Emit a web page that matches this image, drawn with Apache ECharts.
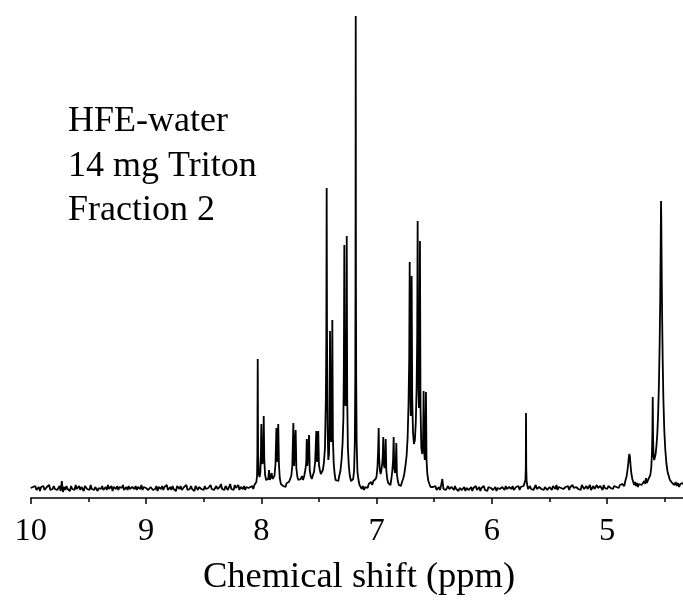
<!DOCTYPE html>
<html><head><meta charset="utf-8">
<script src="https://cdn.jsdelivr.net/npm/echarts@6/dist/echarts.min.js"></script>
<style>html,body{margin:0;padding:0;background:#fff}#c{width:683px;height:603px}</style>
</head><body><div id="c"></div>
<script>
// ---- data (ppm, relative intensity) ----
const annotationLines = ['HFE-water', '14 mg Triton', 'Fraction 2'];
const axisTitle = 'Chemical shift (ppm)';

// baseline noise segments: start ppm, step (ppm), values
const noise1Start = 10.00, noise1Step = 0.01;
const noise1 = [0,-2,1,-1,2,-2,0,1,-3,1,-1,2,-2,0,1,-1,3,-2,0,-1,2,-1,1,-2,0,2,-3,7,-4,1,-2,2,-1,0,-3,2,-1,1,-2,3,-1,0,2,-2,1,-1,-3,2,0,-1,1,-2,3,-1,0,-2,1,2,-3,0,1,-1,2,-2,0,1,-2,3,-1,-1,2,-3,1,0,-1,2,-2,1,-1,0,3,-2,0,1,-2,2,-1,-3,1,0,-1,2,-2,1,0,-1,3,-2,1,-1,0,2,-2,-1,1,3,-2,0,-1,2,-3,1,0,-1,2,-2,1,-1,3,-2,0,1,-2,2,-1,0,-3,2,1,-1,2,-2,0,1,-1,3,-2,0,-1,2,-1,1,-3,2,0,-2,1,3,-1,0,-2,2,-1,1,0,-2,3,-1,1,-2,0,2,-1,-2,1,4,-1,0,-2,2,1,-2,0,4,-1,1,-2,3,0,-1,3,-2,1,0,-1,2,-2,1,3,0,2];
const noise2Start = 6.51, noise2Step = 0.01;
const noise2 = [1,-1,2,-2,0,1,-2,3,9,-1,1,-2,0,2,-1,-3,1,0,-2,2,-1,1,-3,0,2,-2,-1,1,-3,0,2,-2,-1,1,-3,0,-1,2,-2,-1,1,-3,0,-1,2,-2,0,-3,1,-1,0,2,-2,-1,1,-3,0,2,-1,-2,1,0,-2,2,-1,-3,1,0,-1,2,-2,0,1,-1,2,-2,1];
const noise3Start = 5.68, noise3Step = 0.01;
const noise3 = [0,2,-1,1,-2,0,3,-1,-2,1,2,-1,0,-2,1,3,-2,0,1,-1,-2,2,0,-1,3,-2,1,-1,0,2,-1,-3,1,0,2,-2,1,-1,3,0,-2,1,2,-1,0,-2,3,1,-1,0,2,-1,1,3,-2,0,2,-1,1,3,0,-1,2,1,-2,3,0,1,-1,2,3,0,1,-1,2,4,1,2,0,3,2,4];

// aromatic region 8.08 - 6.52 ppm
const clusterA = [[8.08,2],[8.07,-1],[8.06,3],[8.05,1],[8.043,6],[8.037,12],[8.034,35],[8.031,129],[8.028,35],[8.022,14],[8.015,11],[8.008,16],[8.004,30],[8.000,64],[7.995,28],[7.990,24],[7.984,32],[7.979,72],[7.974,28],[7.967,13],[7.958,8],[7.948,10],[7.940,9],[7.933,18],[7.926,8],[7.918,11],[7.910,15],[7.903,9],[7.895,7],[7.886,12],[7.877,24],[7.869,60],[7.863,26],[7.858,28],[7.853,64],[7.847,24],[7.840,10],[7.830,4],[7.820,6],[7.810,2],[7.800,4],[7.790,1],[7.780,5],[7.770,3],[7.760,6],[7.750,8],[7.740,12],[7.731,22],[7.722,65],[7.715,22],[7.708,23],[7.702,58],[7.696,20],[7.687,11],[7.678,8],[7.668,6],[7.658,9],[7.648,12],[7.638,8],[7.628,12],[7.618,18],[7.610,26],[7.606,49],[7.600,22],[7.592,24],[7.586,53],[7.580,18],[7.572,12],[7.562,9],[7.552,13],[7.543,16],[7.533,26],[7.523,57],[7.516,26],[7.511,28],[7.506,57],[7.500,23],[7.492,18],[7.484,14],[7.476,16],[7.466,18],[7.457,25],[7.448,40],[7.440,90],[7.436,150],[7.433,300],[7.430,150],[7.425,60],[7.419,28],[7.413,34],[7.408,65],[7.404,157],[7.399,55],[7.394,46],[7.389,62],[7.384,168],[7.379,50],[7.372,25],[7.364,14],[7.356,8],[7.348,6],[7.340,9],[7.332,7],[7.324,12],[7.314,17],[7.304,28],[7.295,45],[7.288,70],[7.284,120],[7.280,243],[7.275,100],[7.270,82],[7.265,88],[7.262,115],[7.259,252],[7.255,90],[7.249,40],[7.241,22],[7.232,12],[7.222,7],[7.212,5],[7.203,9],[7.195,18],[7.189,45],[7.185,110],[7.183,200],[7.181,472],[7.179,200],[7.177,110],[7.173,45],[7.166,16],[7.157,8],[7.148,3],[7.138,5],[7.128,-1],[7.118,2],[7.108,-2],[7.098,1],[7.088,3],[7.078,0],[7.068,4],[7.058,2],[7.048,6],[7.038,3],[7.028,7],[7.018,5],[7.008,9],[7.000,12],[6.992,22],[6.986,40],[6.982,60],[6.978,30],[6.972,18],[6.965,14],[6.958,18],[6.950,26],[6.946,34],[6.942,51],[6.937,24],[6.931,20],[6.926,26],[6.921,49],[6.916,18],[6.908,9],[6.899,5],[6.890,6],[6.880,3],[6.872,9],[6.864,17],[6.857,28],[6.852,51],[6.847,20],[6.840,15],[6.834,22],[6.829,45],[6.824,14],[6.816,7],[6.807,3],[6.798,5],[6.789,2],[6.780,6],[6.770,9],[6.760,14],[6.750,22],[6.740,32],[6.731,50],[6.723,85],[6.717,130],[6.713,226],[6.709,110],[6.704,72],[6.700,95],[6.696,212],[6.691,90],[6.684,55],[6.676,44],[6.668,48],[6.660,66],[6.653,100],[6.648,150],[6.644,267],[6.639,110],[6.633,80],[6.628,110],[6.624,247],[6.619,80],[6.612,40],[6.604,34],[6.597,48],[6.592,97],[6.587,36],[6.582,28],[6.577,38],[6.572,96],[6.567,28],[6.560,14],[6.551,7],[6.542,4],[6.532,1],[6.522,3]];
// singlet near 5.70 ppm
const clusterB = [[5.745,1],[5.735,-1],[5.725,2],[5.716,4],[5.709,8],[5.706,20],[5.704,75],[5.702,20],[5.699,7],[5.692,2],[5.686,-1]];
// region 4.86 - 4.34 ppm
const clusterC = [[4.860,4],[4.852,2],[4.845,6],[4.838,8],[4.831,12],[4.824,18],[4.818,24],[4.813,30],[4.808,34],[4.803,31],[4.797,22],[4.790,14],[4.782,9],[4.774,7],[4.766,3],[4.758,6],[4.750,2],[4.742,5],[4.734,1],[4.726,4],[4.718,2],[4.710,6],[4.702,3],[4.694,5],[4.686,2],[4.678,7],[4.670,4],[4.664,10],[4.658,5],[4.650,6],[4.642,9],[4.634,8],[4.626,13],[4.618,20],[4.612,34],[4.608,55],[4.605,91],[4.602,50],[4.598,32],[4.592,28],[4.586,30],[4.580,34],[4.573,42],[4.565,55],[4.558,75],[4.551,105],[4.545,145],[4.540,190],[4.537,230],[4.534,275],[4.533,287],[4.531,270],[4.528,225],[4.524,175],[4.519,130],[4.513,90],[4.505,58],[4.496,38],[4.486,24],[4.476,16],[4.466,12],[4.456,8],[4.446,10],[4.436,5],[4.426,7],[4.416,3],[4.406,6],[4.396,2],[4.386,5],[4.376,1],[4.366,4],[4.356,2],[4.346,5],[4.336,3]];

// ---- build the trace ----
const pts = [];
function addNoise(start, step, arr) { arr.forEach((v, i) => pts.push([+(start - i * step).toFixed(4), v])); }
addNoise(noise1Start, noise1Step, noise1);
addNoise(noise2Start, noise2Step, noise2);
addNoise(noise3Start, noise3Step, noise3);
clusterA.concat(clusterB, clusterC).forEach(p => pts.push(p.slice()));
pts.sort((a, b) => b[0] - a[0]);

const FONT = '"Liberation Serif", "Times New Roman", Times, serif';
const chart = echarts.init(document.getElementById('c'), null, { renderer: 'canvas' });
chart.setOption({
  animation: false,
  backgroundColor: '#fff',
  grid: { left: 30.7, right: -39.5, top: 16, bottom: 105, containLabel: false, outerBoundsMode: 'none' },
  xAxis: {
    type: 'value', inverse: true, min: 4, max: 10, interval: 1,
    axisLine: { show: true, onZero: false, lineStyle: { color: '#000', width: 1.5 } },
    axisTick: { show: true, inside: false, length: 6, lineStyle: { color: '#000', width: 1.5 } },
    minorTick: { show: true, splitNumber: 2, length: 4, lineStyle: { color: '#000', width: 1.5 } },
    splitLine: { show: false },
    axisLabel: { color: '#000', fontSize: 32.5, fontFamily: FONT, margin: 17 }
  },
  yAxis: { type: 'value', min: -10, max: 472, show: false },
  series: [{
    type: 'line', data: pts, showSymbol: false, symbol: 'none', sampling: null,
    lineStyle: { color: '#000', width: 1.8 }, silent: true
  }],
  graphic: annotationLines.map((t, i) => ({
    type: 'text', x: 68, y: 122 + i * 44.5,
    style: { text: t, fontSize: 36, fontFamily: FONT, fill: '#000', align: 'left', verticalAlign: 'middle' }
  })).concat([{
    type: 'text', x: 359, y: 577,
    style: { text: axisTitle, fontSize: 36.5, fontFamily: FONT, fill: '#000', align: 'center', verticalAlign: 'middle' }
  }])
});
</script></body></html>
